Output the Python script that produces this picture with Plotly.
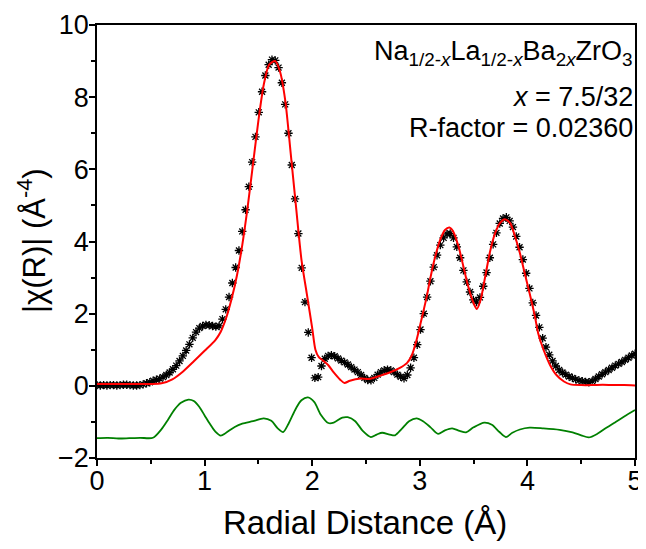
import plotly.graph_objects as go

# ---- experimental |chi(R)| (markers), sampled on the FFT grid ----
R_STEP = 0.03068
exp_chi = [
    0.02, 0.01, 0.02, 0.01, 0.02, 0.02, 0.01, 0.02, 0.03, 0.03,
    0.02, 0.01, 0.01, 0.02, 0.04, 0.07, 0.10, 0.14, 0.17, 0.20,
    0.24, 0.30, 0.37, 0.46, 0.56, 0.69, 0.83, 0.98, 1.15, 1.33,
    1.49, 1.60, 1.66, 1.69, 1.68, 1.66, 1.64, 1.66, 1.85, 2.12,
    2.46, 2.85, 3.28, 3.75, 4.28, 4.88, 5.52, 6.20, 6.90, 7.58,
    8.15, 8.60, 8.90, 9.04, 9.02, 8.82, 8.40, 7.80, 7.00, 6.12,
    5.18, 4.22, 3.27, 2.32, 1.48, 0.78, 0.22, 0.24, 0.55, 0.75,
    0.83, 0.85, 0.82, 0.76, 0.70, 0.65, 0.59, 0.52, 0.45, 0.38,
    0.30, 0.22, 0.16, 0.15, 0.22, 0.31, 0.38, 0.43, 0.45, 0.43,
    0.38, 0.31, 0.25, 0.21, 0.30, 0.50, 0.78, 1.14, 1.56, 2.00,
    2.46, 2.90, 3.29, 3.62, 3.90, 4.10, 4.21, 4.22, 4.10, 3.85,
    3.55, 3.20, 2.88, 2.60, 2.38, 2.32, 2.45, 2.76, 3.14, 3.55,
    3.92, 4.24, 4.50, 4.64, 4.67, 4.57, 4.40, 4.14, 3.84, 3.50,
    3.12, 2.70, 2.30, 1.95, 1.62, 1.32, 1.07, 0.86, 0.69, 0.55,
    0.44, 0.37, 0.31, 0.26, 0.22, 0.18, 0.15, 0.13, 0.11, 0.10,
    0.13, 0.19, 0.26, 0.32, 0.38, 0.44, 0.50, 0.56, 0.61, 0.66,
    0.72, 0.78, 0.84, 0.89,
]
exp_r = [round(i * R_STEP, 4) for i in range(len(exp_chi))]

# ---- fit (red line) ----
fit_r = [0.0, 0.3, 0.5, 0.6, 0.7, 0.8, 0.9, 1.0, 1.1, 1.15, 1.2, 1.25, 1.3,
         1.35, 1.4, 1.45, 1.5, 1.55, 1.6, 1.655, 1.7, 1.75, 1.8, 1.85, 1.9,
         1.95, 2.0, 2.03, 2.06, 2.1, 2.15, 2.2, 2.26, 2.3, 2.35, 2.45, 2.53,
         2.63, 2.72, 2.815, 2.88, 2.925, 2.97, 3.015, 3.065, 3.095, 3.14,
         3.19, 3.234, 3.275, 3.31, 3.36, 3.405, 3.45, 3.5, 3.53, 3.565,
         3.605, 3.65, 3.7, 3.745, 3.79, 3.84, 3.885, 3.93, 3.975, 4.02,
         4.07, 4.1, 4.15, 4.21, 4.27, 4.34, 4.4, 4.5, 4.6, 4.7, 4.8, 4.9, 5.0]
fit_chi = [0.05, 0.05, 0.05, 0.07, 0.18, 0.40, 0.68, 0.97, 1.27, 1.50, 1.88,
           2.40, 3.05, 3.90, 4.95, 6.15, 7.35, 8.35, 8.90, 9.00, 8.72, 7.90,
           6.45, 4.95, 3.50, 2.55, 1.60, 1.00, 0.80, 0.70, 0.57, 0.37, 0.17,
           0.08, 0.14, 0.20, 0.19, 0.28, 0.37, 0.50, 0.63, 0.84, 1.27, 1.83,
           2.48, 2.94, 3.54, 4.05, 4.32, 4.39, 4.28, 3.86, 3.31, 2.75, 2.29,
           2.13, 2.38, 2.98, 3.68, 4.23, 4.51, 4.62, 4.51, 4.14, 3.68, 3.12,
           2.57, 1.92, 1.46, 1.00, 0.58, 0.30, 0.12, 0.04, 0.02, 0.02, 0.03,
           0.02, 0.02, 0.01]

# ---- residual (green line) ----
res_r = [0.0, 0.1, 0.2, 0.3, 0.4, 0.52, 0.6, 0.66, 0.72, 0.78, 0.85, 0.9,
         0.95, 1.0, 1.05, 1.1, 1.15, 1.2, 1.28, 1.35, 1.45, 1.55, 1.62, 1.68,
         1.73, 1.78, 1.85, 1.9, 1.96, 2.02, 2.08, 2.15, 2.2, 2.28, 2.33, 2.4,
         2.47, 2.545, 2.6, 2.65, 2.72, 2.77, 2.83, 2.9, 2.97, 3.03, 3.1, 3.17,
         3.23, 3.3, 3.37, 3.43, 3.5, 3.6, 3.67, 3.74, 3.8, 3.86, 3.93, 4.02,
         4.15, 4.3, 4.42, 4.5, 4.57, 4.65, 4.73, 4.82, 4.9, 5.0]
res_chi = [-1.45, -1.44, -1.46, -1.45, -1.44, -1.44, -1.20, -0.94, -0.66,
           -0.47, -0.38, -0.42, -0.58, -0.82, -1.06, -1.27, -1.38, -1.30,
           -1.14, -1.05, -0.98, -0.90, -0.97, -1.18, -1.28, -1.05, -0.62,
           -0.40, -0.32, -0.45, -0.80, -1.03, -1.02, -0.88, -0.87, -0.98,
           -1.25, -1.42, -1.35, -1.30, -1.35, -1.37, -1.20, -0.98, -0.90,
           -0.98, -1.15, -1.33, -1.24, -1.18, -1.25, -1.29, -1.15, -1.02,
           -1.08, -1.28, -1.42, -1.30, -1.21, -1.16, -1.18, -1.22, -1.29,
           -1.37, -1.43, -1.33, -1.17, -1.00, -0.85, -0.67]

x_ticks = [0, 1, 2, 3, 4, 5]
y_ticks = [-2, 0, 2, 4, 6, 8, 10]

FONT = "Arial, 'Liberation Sans', sans-serif"
SERIF = "'Times New Roman', 'Liberation Serif', serif"
IX = f"<span style='font-family:{SERIF}'><i>x</i></span>"

fig = go.Figure()
fig.add_trace(go.Scatter(x=res_r, y=res_chi, mode="lines",
                         line=dict(color="#008000", width=1.8, shape="spline", smoothing=0.8),
                         showlegend=False))
fig.add_trace(go.Scatter(x=exp_r, y=exp_chi, mode="markers",
                         marker=dict(symbol="asterisk-open", size=7, color="black",
                                     line=dict(color="black", width=1.3)),
                         showlegend=False))
fig.add_trace(go.Scatter(x=fit_r, y=fit_chi, mode="lines",
                         line=dict(color="#ff0000", width=2, shape="spline", smoothing=0.7),
                         showlegend=False))

axis_common = dict(showline=True, linecolor="black", linewidth=1.5, mirror=True,
                   ticks="outside", ticklen=6, tickwidth=1.5, tickcolor="black",
                   showgrid=False, zeroline=False, automargin=False,
                   ticklabeloverflow="allow",
                   tickfont=dict(family=FONT, size=27, color="black"))

fig.update_xaxes(range=[0, 5], tickvals=x_ticks, ticklabelstandoff=-8,
                 minor=dict(ticks="outside", ticklen=4, tickwidth=1.5, dtick=0.5, tickcolor="black"),
                 **axis_common)
fig.update_yaxes(range=[-2, 10], tickvals=y_ticks, ticklabelstandoff=-5,
                 minor=dict(ticks="outside", ticklen=4, tickwidth=1.5, dtick=1, tickcolor="black"),
                 **axis_common)

# axis titles as annotations for exact placement
fig.add_annotation(xref="paper", yref="paper", x=0.498, y=-0.148, xanchor="center", yanchor="middle",
                   text="Radial Distance (Å)", showarrow=False,
                   font=dict(family=FONT, size=33, color="black"))
fig.add_annotation(xref="paper", yref="paper", x=-0.121, y=0.503, xanchor="center", yanchor="middle",
                   text="|χ(R)| (Å<sup>-4</sup>)", textangle=-90, showarrow=False,
                   font=dict(family=FONT, size=31, color="black"))

ann_font = dict(family=FONT, size=27, color="black")
fig.add_annotation(xref="paper", yref="paper", x=1.0, y=0.935, xanchor="right", yanchor="middle",
                   text=f"Na<sub>1/2-{IX}</sub>La<sub>1/2-{IX}</sub>Ba<sub>2{IX}</sub>ZrO<sub>3</sub>",
                   showarrow=False, font=ann_font, align="right")
fig.add_annotation(xref="paper", yref="paper", x=1.0, y=0.834, xanchor="right", yanchor="middle",
                   text=f"<span style='font-family:{SERIF}'><i>x</i></span> = 7.5/32",
                   showarrow=False, font=ann_font, align="right")
fig.add_annotation(xref="paper", yref="paper", x=1.0, y=0.762, xanchor="right", yanchor="middle",
                   text="R-factor = 0.02360",
                   showarrow=False, font=ann_font, align="right")

# page body adds an 8px margin; offset the figure so the plot sits where the reference has it
fig.update_layout(width=638, height=533, margin=dict(l=89, r=11, t=17, b=83),
                  plot_bgcolor="white", paper_bgcolor="white",
                  font=dict(family=FONT, color="black"))

fig.write_html("out.html")
